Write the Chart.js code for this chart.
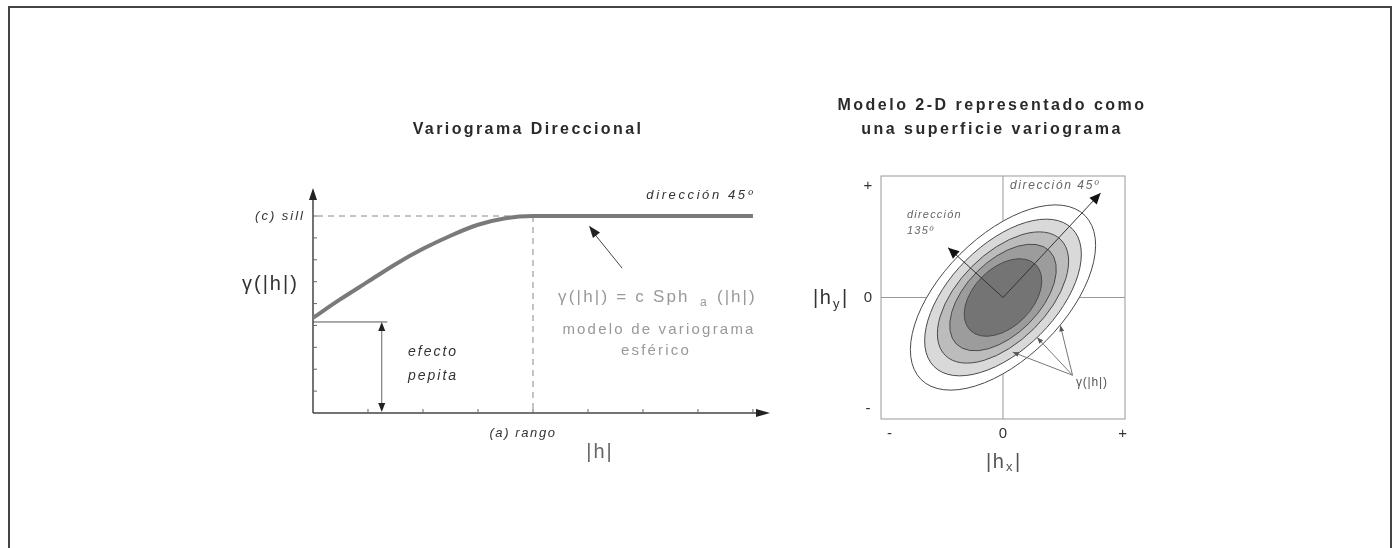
<!DOCTYPE html>
<html>
<head>
<meta charset="utf-8">
<script src="https://cdn.jsdelivr.net/npm/chart.js@4.4.1/dist/chart.umd.min.js"></script>
<style>
  html, body { margin: 0; padding: 0; background: #fff; }
  body { width: 1397px; height: 548px; position: relative; overflow: hidden; }
  #frame { position: absolute; left: 8px; top: 6px; width: 1380px; height: 600px; border: 2px solid #444; border-bottom: none; }
  canvas { position: absolute; left: 0; top: 0; }
</style>
</head>
<body>
<div id="frame"></div>
<canvas id="variogram-chart" width="1397" height="548"></canvas>
<canvas id="surface-chart" width="1397" height="548"></canvas>
<script>
// directional variogram (left)
const lagH = [0, 0.5, 1, 1.5, 2, 2.5, 3, 3.5, 4, 8];
const gammaH = [4.35, 5.2, 6.0, 6.8, 7.5, 8.1, 8.6, 8.9, 9.0, 9.0];
const sillValue = 9;
const rangeValue = 4;
const nuggetValue = 4.25;
const lagTicks = [1, 2, 3, 4, 5, 6, 7, 8];
const gammaTicks = [1, 2, 3, 4, 5, 6, 7, 8, 9];

// variogram surface (right) - contour ellipses, axis units
const contourMajor = [0.95, 0.80, 0.67, 0.54, 0.38];
const contourMinor = [0.50, 0.43, 0.36, 0.30, 0.24];
const contourAngle = 45;
const dir45 = [{x: 0, y: 0}, {x: 0.80, y: 0.86}];
const dir135 = [{x: 0, y: 0}, {x: -0.45, y: 0.41}];
const hxTickValues = [-0.93, 0, 0.98];
const hyTickValues = [-0.92, 0, 0.92];
const hTickLabels = ['-', '0', '+'];

const contourFill = ['#ffffff', '#d9d9d9', '#bcbcbc', '#9c9c9c', '#747474'];
const FONT = "'Liberation Sans', Arial, sans-serif";

function drawText(ctx, text, x, y, font, color, align, spacing) {
    ctx.save();
    ctx.font = font + ' ' + FONT;
    ctx.fillStyle = color;
    ctx.textAlign = align || 'left';
    ctx.textBaseline = 'middle';
    ctx.letterSpacing = (spacing || 0) + 'px';
    ctx.fillText(text, x, y);
    ctx.restore();
}

function arrowHead(ctx, x1, y1, x2, y2, len, half, color) {
    const a = Math.atan2(y2 - y1, x2 - x1);
    ctx.save();
    ctx.fillStyle = color;
    ctx.beginPath();
    ctx.moveTo(x2, y2);
    ctx.lineTo(x2 - len * Math.cos(a) + half * Math.sin(a), y2 - len * Math.sin(a) - half * Math.cos(a));
    ctx.lineTo(x2 - len * Math.cos(a) - half * Math.sin(a), y2 - len * Math.sin(a) + half * Math.cos(a));
    ctx.closePath();
    ctx.fill();
    ctx.restore();
}

function line(ctx, x1, y1, x2, y2, color, width, dash) {
    ctx.save();
    ctx.strokeStyle = color;
    ctx.lineWidth = width;
    ctx.setLineDash(dash || []);
    ctx.beginPath();
    ctx.moveTo(x1, y1);
    ctx.lineTo(x2, y2);
    ctx.stroke();
    ctx.restore();
}

const variogramDecor = {
    id: 'variogramDecor',
    beforeDatasetsDraw(chart) {
        const {ctx, chartArea, scales: {x, y}} = chart;
        const x0 = x.getPixelForValue(0), y0 = y.getPixelForValue(0);
        const xs = x.getPixelForValue(rangeValue), ys = y.getPixelForValue(sillValue);
        // dashed guides for sill and range
        line(ctx, x0 + 4, ys, xs, ys, '#888', 1, [6, 5]);
        line(ctx, xs, ys, xs, y0, '#888', 1, [6, 5]);
        // axes
        line(ctx, x0, y0, x0, chartArea.top + 6, '#444', 1.5);
        line(ctx, x0, y0, chartArea.right - 6, y0, '#444', 1.5);
        arrowHead(ctx, x0, y0, x0, chartArea.top, 12, 4, '#222');
        arrowHead(ctx, x0, y0, chartArea.right, y0, 14, 4, '#222');
        gammaTicks.forEach(v => line(ctx, x0, y.getPixelForValue(v), x0 + 4, y.getPixelForValue(v), '#666', 1));
        lagTicks.forEach(v => line(ctx, x.getPixelForValue(v), y0, x.getPixelForValue(v), y0 - 4, '#666', 1));
        // nugget effect
        const yn = y.getPixelForValue(nuggetValue);
        line(ctx, x0, yn + 2, x.getPixelForValue(1.35), yn + 2, '#555', 1);
        const xa = x.getPixelForValue(1.25);
        line(ctx, xa, yn + 8, xa, y0 - 8, '#666', 1);
        arrowHead(ctx, xa, y0, xa, yn + 2, 9, 3.5, '#222');
        arrowHead(ctx, xa, yn, xa, y0 - 1, 9, 3.5, '#222');
        // pointer to the model
        const px1 = x.getPixelForValue(5.62), py1 = y.getPixelForValue(6.62);
        const px2 = x.getPixelForValue(5.02), py2 = y.getPixelForValue(8.55);
        line(ctx, px1, py1, px2 + 3, py2 + 5, '#444', 1);
        arrowHead(ctx, px1, py1, px2, py2, 12, 4.5, '#222');
    },
    afterDraw(chart) {
        const ctx = chart.ctx;
        drawText(ctx, 'Variograma Direccional', 528, 130, 'bold 16px', '#2a2a2a', 'center', 2.4);
        drawText(ctx, '(c) sill', 305, 216, 'italic 13px', '#333', 'right', 2);
        drawText(ctx, 'dirección 45º', 755, 195, 'italic 13px', '#333', 'right', 2.6);
        drawText(ctx, 'γ(|h|)', 242, 284, '20px', '#333', 'left', 2);
        drawText(ctx, 'efecto', 408, 352, 'italic 14px', '#333', 'left', 2);
        drawText(ctx, 'pepita', 408, 376, 'italic 14px', '#333', 'left', 2);
        drawText(ctx, '(a) rango', 523, 433, 'italic 13px', '#333', 'center', 1.6);
        drawText(ctx, '|h|', 600, 452, '20px', '#666', 'center', 2);
        drawText(ctx, 'γ(|h|) = c Sph', 558, 297, '17px', '#999', 'left', 2.2);
        drawText(ctx, 'a', 700, 303, '12px', '#999', 'left', 0);
        drawText(ctx, '(|h|)', 717, 297, '17px', '#999', 'left', 2);
        drawText(ctx, 'modelo de variograma', 659, 330, '15px', '#999', 'center', 2.2);
        drawText(ctx, 'esférico', 656, 351, '15px', '#999', 'center', 2.2);
    }
};

const surfaceDecor = {
    id: 'surfaceDecor',
    beforeDatasetsDraw(chart) {
        const {ctx, chartArea, scales: {x, y}} = chart;
        const cx = x.getPixelForValue(0), cy = y.getPixelForValue(0);
        const unit = x.getPixelForValue(1) - cx;
        ctx.save();
        ctx.strokeStyle = '#999';
        ctx.lineWidth = 1;
        ctx.strokeRect(chartArea.left, chartArea.top, chartArea.width, chartArea.height);
        ctx.restore();
        line(ctx, cx, chartArea.top, cx, chartArea.bottom, '#999', 1);
        line(ctx, chartArea.left, cy, chartArea.right, cy, '#999', 1);
        const rot = -contourAngle * Math.PI / 180;
        contourMajor.forEach((a, i) => {
            ctx.save();
            ctx.beginPath();
            ctx.ellipse(cx, cy, a * unit, contourMinor[i] * unit, rot, 0, Math.PI * 2);
            ctx.fillStyle = contourFill[i];
            ctx.fill();
            ctx.strokeStyle = '#4a4a4a';
            ctx.lineWidth = 1;
            ctx.stroke();
            ctx.restore();
        });
    },
    afterDatasetsDraw(chart) {
        const {ctx, scales: {x, y}} = chart;
        const px = v => x.getPixelForValue(v), py = v => y.getPixelForValue(v);
        arrowHead(ctx, px(dir45[0].x), py(dir45[0].y), px(dir45[1].x), py(dir45[1].y), 11, 5, '#111');
        arrowHead(ctx, px(dir135[0].x), py(dir135[0].y), px(dir135[1].x), py(dir135[1].y), 11, 5, '#111');
        // pointers from the gamma label to the contours
        const from = {x: 0.57, y: -0.64};
        [{x: 0.47, y: -0.23}, {x: 0.28, y: -0.33}, {x: 0.08, y: -0.45}].forEach(p => {
            line(ctx, px(from.x), py(from.y), px(p.x), py(p.y), '#777', 1);
            arrowHead(ctx, px(from.x), py(from.y), px(p.x), py(p.y), 6, 2.5, '#555');
        });
    },
    afterDraw(chart) {
        const {ctx, scales: {x, y}} = chart;
        drawText(ctx, 'Modelo 2-D representado como', 992, 106, 'bold 16px', '#2a2a2a', 'center', 2.5);
        drawText(ctx, 'una superficie variograma', 992, 130, 'bold 16px', '#2a2a2a', 'center', 2.5);
        hTickLabels.forEach((t, i) => {
            drawText(ctx, t, 868, y.getPixelForValue(hyTickValues[i]), '15px', '#333', 'center', 0);
            drawText(ctx, t, x.getPixelForValue(hxTickValues[i]), 434, '15px', '#333', 'center', 0);
        });
        drawText(ctx, '|h', 813, 298, '20px', '#333', 'left', 1.5);
        drawText(ctx, 'y', 833, 304, '13px', '#333', 'left', 0);
        drawText(ctx, '|', 842, 298, '20px', '#333', 'left', 0);
        drawText(ctx, '|h', 986, 462, '20px', '#555', 'left', 1.5);
        drawText(ctx, 'x', 1006, 467, '13px', '#555', 'left', 0);
        drawText(ctx, '|', 1015, 462, '20px', '#555', 'left', 0);
        drawText(ctx, 'dirección 45º', 1010, 186, 'italic 12px', '#666', 'left', 1.6);
        drawText(ctx, 'dirección', 907, 215, 'italic 11px', '#666', 'left', 1.2);
        drawText(ctx, '135º', 907, 231, 'italic 11px', '#666', 'left', 1.2);
        drawText(ctx, 'γ(|h|)', 1076, 383, '12px', '#555', 'left', 0.8);
    }
};

const variogramChart = new Chart(document.getElementById('variogram-chart'), {
    type: 'scatter',
    data: {
        datasets: [{
            data: lagH.map((h, i) => ({x: h, y: gammaH[i]})),
            showLine: true,
            borderColor: '#7a7a7a',
            borderWidth: 4,
            pointRadius: 0,
            cubicInterpolationMode: 'monotone',
            clip: false
        }]
    },
    options: {
        responsive: false,
        animation: false,
        layout: { padding: { left: 313, top: 188, right: 627, bottom: 135 } },
        scales: {
            x: { type: 'linear', min: 0, max: 8.31, display: false },
            y: { type: 'linear', min: 0, max: 10.28, display: false }
        },
        plugins: { legend: { display: false }, tooltip: { enabled: false } }
    },
    plugins: [variogramDecor]
});

const surfaceChart = new Chart(document.getElementById('surface-chart'), {
    type: 'scatter',
    data: {
        datasets: [dir45, dir135].map(d => ({
            data: d,
            showLine: true,
            borderColor: '#333',
            borderWidth: 1,
            pointRadius: 0
        }))
    },
    options: {
        responsive: false,
        animation: false,
        layout: { padding: { left: 881, top: 176, right: 272, bottom: 129 } },
        scales: {
            x: { type: 'linear', min: -1, max: 1, display: false },
            y: { type: 'linear', min: -1, max: 1, display: false }
        },
        plugins: { legend: { display: false }, tooltip: { enabled: false } }
    },
    plugins: [surfaceDecor]
});
</script>
</body>
</html>
